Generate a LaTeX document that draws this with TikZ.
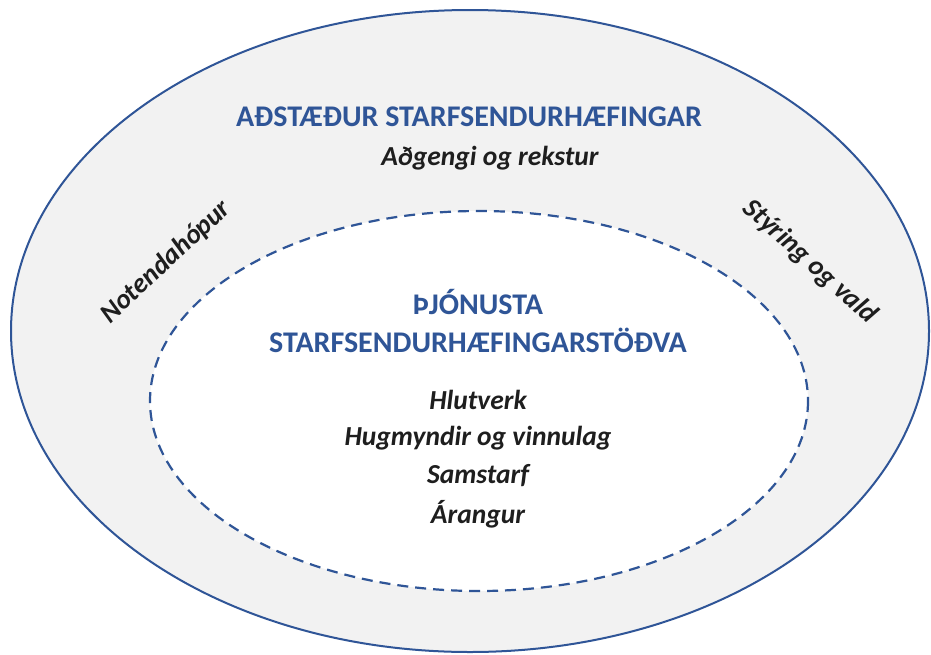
\documentclass[tikz,border=0pt]{standalone}
\usepackage{fontspec}
\setmainfont{Carlito}
\definecolor{ringblue}{HTML}{2F5597}
\definecolor{ringgray}{HTML}{F2F2F2}
\definecolor{labeltext}{HTML}{1E1E1E}

\begin{document}
\begin{tikzpicture}[x=1pt, y=-1pt,
		heading/.style={text=ringblue, font=\fontsize{30}{38}\selectfont\bfseries, align=center},
		topic/.style={text=labeltext, font=\fontsize{27.5}{33}\selectfont\bfseries\itshape}]
			\useasboundingbox (0,0) rectangle (931,654);
			\coordinate (O) at (470,331);
			\coordinate (I) at (479,401);
			
			% Draw outer and inner rings
			\draw[ringblue, line width=2pt, fill=ringgray] (O) ellipse [x radius=459, y radius=321];
			\draw[ringblue, line width=2.2pt, dash pattern=on 11pt off 7pt, fill=white] (I) ellipse [x radius=329, y radius=190];
			
			% Outer ring labels
			\node[heading] (adst) at (469,117) {AÐSTÆÐUR STARFSENDURHÆFINGAR};
			\node[topic] (adgengi) at (490,158) {Aðgengi og rekstur};
			\node[topic, rotate=43] (notendur) at (166,262) {Notendahópur};
			\node[topic, rotate=-42] (styring) at (810,262) {Stýring og vald};
			
			% Inner ring labels
			\node[heading] (thjon) at (478,321) {ÞJÓNUSTA\\STARFSENDURHÆFINGARSTÖÐVA};
			\node[topic] (hlut) at (478,400) {Hlutverk};
			\node[topic] (hugm) at (478,438) {Hugmyndir og vinnulag};
			\node[topic] (samst) at (478,476) {Samstarf};
			\node[topic] (arang) at (478,514) {Árangur};
		\end{tikzpicture}
\end{document}
